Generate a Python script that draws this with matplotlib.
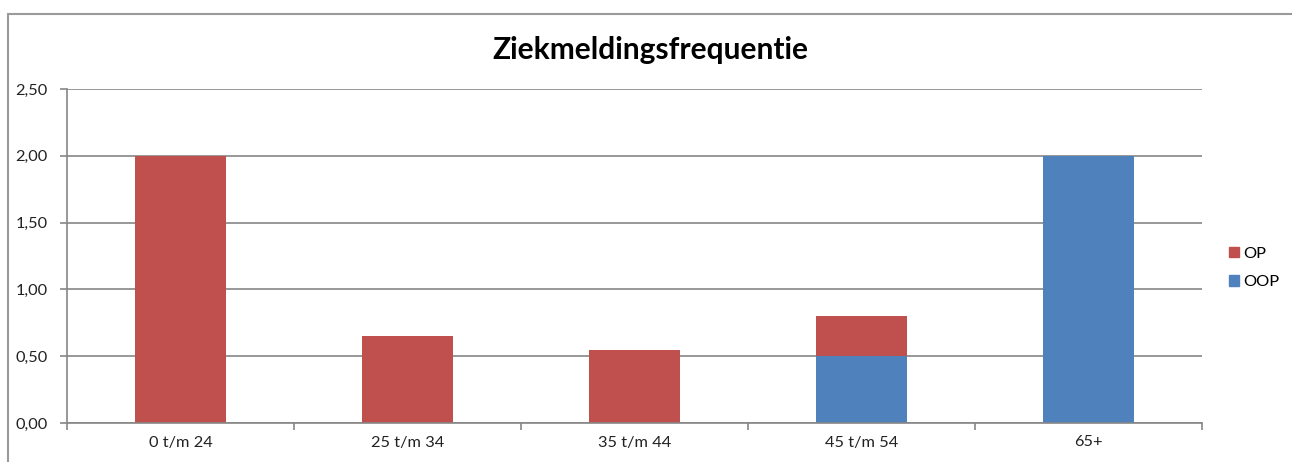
import numpy as np
import matplotlib
matplotlib.use('Agg')
import matplotlib.pyplot as plt
import matplotlib.patches as mpatches

categories = ['0 t/m 24', '25 t/m 34', '35 t/m 44', '45 t/m 54', '65+']
oop = [0.0, 0.0, 0.0, 0.5, 2.0]
op = [2.0, 0.65, 0.55, 0.3, 0.0]
yticks = [0.0, 0.5, 1.0, 1.5, 2.0, 2.5]
ytick_labels = ['0,00', '0,50', '1,00', '1,50', '2,00', '2,50']

red = '#C0504D'
blue = '#4F81BD'
grey = '#868686'

plt.rcParams['font.family'] = ['Lato', 'DejaVu Sans']

W, H = 1292, 462
fig = plt.figure(figsize=(W/100, H/100), dpi=100)
ax = fig.add_axes([67/W, 1-423/H, (1202-67)/W, (423-89)/H])

x = np.arange(len(categories))
ax.bar(x, oop, width=0.4, color=blue, zorder=3, label='OOP')
ax.bar(x, op, width=0.4, bottom=oop, color=red, zorder=3, label='OP')

ax.set_xlim(-0.5, len(categories)-0.5)
ax.set_ylim(0, 2.5)
ax.set_yticks(yticks)
ax.set_yticklabels(ytick_labels, fontsize=11.8, color='#222222')
ax.set_xticks(x)
ax.set_xticklabels(categories, fontsize=11.8, color='#222222')
ax.set_xticks(np.arange(len(categories)+1)-0.5, minor=True)
ax.tick_params(axis='x', which='major', length=0, pad=9)
ax.tick_params(axis='x', which='minor', length=5, color=grey, width=1.2)
ax.tick_params(axis='y', length=5, color=grey, width=1.2, pad=9)
ax.yaxis.grid(True, color=grey, linewidth=1.2, zorder=0)
for s in ['top', 'right']:
    ax.spines[s].set_visible(False)
for s in ['left', 'bottom']:
    ax.spines[s].set_color(grey)
    ax.spines[s].set_linewidth(1.2)
    ax.spines[s].set_zorder(4)

fig.text(650/W, 1-50/H, 'Ziekmeldingsfrequentie', fontsize=21.5, fontweight='bold',
         ha='center', va='center')

h_op = mpatches.Patch(color=red, label='OP')
h_oop = mpatches.Patch(color=blue, label='OOP')
fig.legend(handles=[h_op, h_oop], loc='center left', bbox_to_anchor=(1214/W, 1-268/H),
           frameon=False, fontsize=11.8, handlelength=0.6, handleheight=0.6,
           handletextpad=0.3, labelspacing=0.9)

border = mpatches.Rectangle((8/W, -0.1), 1.2, 1-14/H+0.1, transform=fig.transFigure,
                            fill=False, edgecolor='#9a9a9a', linewidth=1.5)
fig.patches.append(border)

fig.savefig('out.png', dpi=100)
